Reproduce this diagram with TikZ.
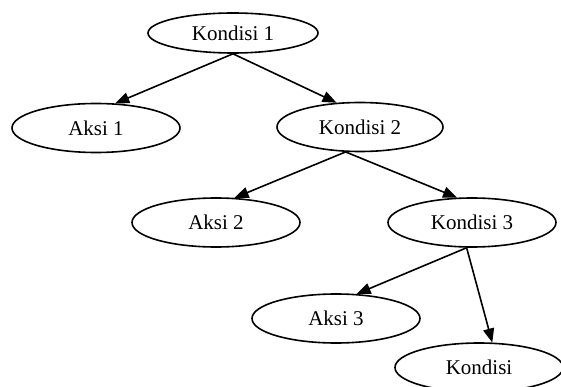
\documentclass[tikz,border=0pt]{standalone}
\usepackage{fontspec}
\setmainfont{Liberation Serif}
\usetikzlibrary{shapes.geometric,arrows.meta}
\tikzset{
  ell/.style={draw, ellipse, line width=1.6pt, inner sep=0pt,
    minimum width=168pt, minimum height=49pt,
    font=\fontsize{21}{25}\selectfont},
  arr/.style={line width=1.6pt, -{Triangle[length=14pt,width=11pt]}}
}
\begin{document}
\begin{tikzpicture}[x=1pt,y=-1pt]
\useasboundingbox (0,0) rectangle (561,387);
\node[ell, minimum width=170pt, minimum height=40pt] (k1) at (233,33) {Kondisi 1};
\node[ell] (a1) at (96,128) {Aksi 1};
\node[ell, minimum width=166pt] (k2) at (360,127) {Kondisi 2};
\node[ell] (a2) at (216,222.5) {Aksi 2};
\node[ell] (k3) at (472,222.5) {Kondisi 3};
\node[ell] (a3) at (336,318.5) {Aksi 3};
\node[ell] (k4) at (479,367.5) {Kondisi};
\draw[arr] (k1.south) -- (a1.52);
\draw[arr] (k1.south) -- (k2.134);
\draw[arr] (k2.240) -- (a2.53);
\draw[arr] (k2.240) -- (k3.121);
\draw[arr] (k3.258) -- (a3.50);
\draw[arr] (k3.258) -- (k4.62);
\end{tikzpicture}
\end{document}
